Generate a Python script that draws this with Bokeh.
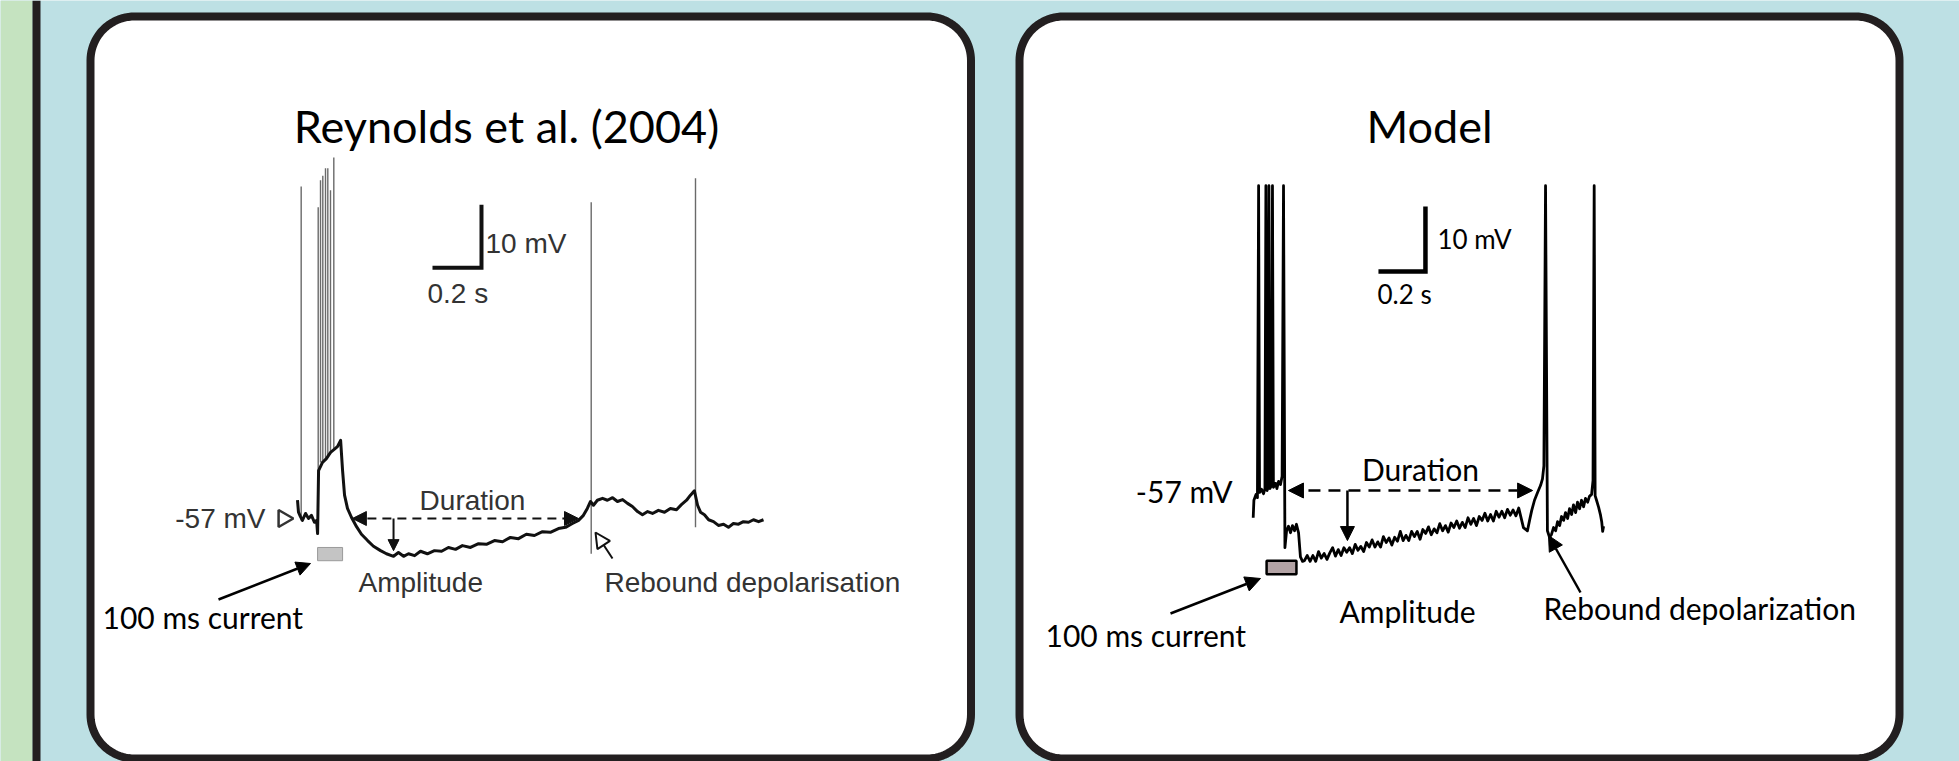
import numpy as np
from bokeh.plotting import figure
from bokeh.models import Range1d, Label, Arrow, NormalHead
from bokeh.embed import file_html
from bokeh.resources import INLINE

W, H = 1959, 761

# ---------------- DATA ----------------
# Reynolds et al. (2004) recording: time (ms) and membrane potential (mV)
rey_t = [0, 4, 12, 20, 33, 45, 57, 69, 78, 82,
         86, 102, 118, 135, 151, 163, 176, 184, 192, 204,
         220, 241, 261, 286, 310, 339, 363, 392, 412, 433,
         453, 478, 502, 530, 559, 588, 616, 645, 673, 706,
         739, 771, 804, 837, 869, 902, 934, 967, 1000, 1032,
         1065, 1094, 1122, 1147, 1167, 1183, 1196, 1208, 1224, 1245,
         1265, 1286, 1306, 1327, 1347, 1367, 1388, 1408, 1429, 1449,
         1473, 1498, 1522, 1547, 1567, 1588, 1604, 1620, 1633, 1645,
         1661, 1678, 1698, 1718, 1739, 1759, 1779, 1800, 1820, 1841,
         1861, 1882, 1902]
rey_v = [-54.1, -56.0, -56.7, -57.3, -56.2, -57.0, -56.5, -57.6, -57.3, -59.4,
         -49.4, -48.1, -47.5, -46.5, -46.0, -45.6, -44.6, -49.4, -53.3, -55.4,
         -56.8, -58.3, -59.5, -60.5, -61.4, -62.1, -62.6, -63.0, -62.4, -63.0,
         -62.6, -62.9, -62.2, -62.6, -62.1, -62.2, -61.6, -61.9, -61.3, -61.6,
         -61.0, -61.1, -60.5, -60.7, -60.0, -60.2, -59.5, -59.7, -59.1, -59.2,
         -58.6, -58.4, -57.8, -57.3, -56.5, -55.4, -54.3, -54.9, -54.1, -53.8,
         -54.1, -53.7, -54.3, -54.0, -54.6, -55.1, -55.9, -56.4, -55.9, -56.2,
         -55.7, -56.0, -55.4, -55.6, -54.8, -54.1, -53.3, -52.6, -54.9, -56.0,
         -56.4, -57.2, -57.5, -58.1, -57.9, -58.4, -57.8, -57.9, -57.5, -57.6,
         -57.2, -57.5, -57.2]
# recorded action potentials (time, trough, peak)
rey_spike_t = [15, 84.5, 93.9, 103.3, 114.3, 123.7, 134.7, 148.2, 1198.8, 1624.5]
rey_spike_lo = [-57.3, -59.4, -48.1, -47.8, -47.5, -47.0, -46.5, -46.0, -62.6, -58.4]
rey_spike_hi = [-4.3, -7.6, -3.3, -2.6, -1.4, -1.4, -4.9, 0.3, -6.8, -3.0]
rey_stim = [82, 184]
rey_duration = [224, 1147]
rey_amp = [392, -57.0, -62.1]

# Model trace: time (ms) and membrane potential (mV)
mod_t = [0, 3, 12, 18, 23, 27, 35, 44, 50, 54,
         59, 63, 67, 71, 78, 82, 86, 95, 101, 108,
         116, 123, 129, 135, 142, 150, 159, 167, 176, 184,
         193, 201, 210,
         218, 230, 242, 254, 266, 278, 290, 302, 314, 326,
         338, 350, 362, 374, 386, 398, 410, 422, 434, 446,
         458, 470, 482, 494, 506, 518, 530, 542, 554, 566,
         578, 590, 602, 614, 626, 638, 650, 662, 674, 686,
         698, 710, 722, 734, 746, 758, 770, 782, 794, 806,
         818, 830, 842, 854, 866, 878, 890, 902, 914, 926,
         938, 950, 962, 974, 986, 998, 1010, 1022, 1034, 1046,
         1058, 1070, 1082, 1094, 1106, 1118, 1130,
         1150, 1167, 1176, 1185, 1197, 1210, 1223, 1231, 1237, 1244,
         1252, 1261, 1269, 1278, 1287, 1295, 1304, 1312, 1321, 1329,
         1338, 1346, 1355, 1363, 1372, 1380, 1389, 1397, 1406, 1414,
         1423, 1431, 1440, 1446, 1451, 1455, 1461, 1470, 1478, 1483,
         1487, 1491]
mod_v = [-61.2, -58.5, -57.6, -58.1, -10.1, -57.3, -56.8, -57.5, -56.7, -10.1,
         -57.0, -56.5, -10.1, -56.7, -56.2, -10.1, -56.5, -55.9, -56.7, -55.6,
         -56.1, -54.8, -10.1, -65.8, -63.2, -62.5, -63.5, -62.4, -63.2, -62.2,
         -63.5, -67.2, -67.9,
         -67.8, -67.0, -67.9, -67.0, -67.9, -66.4, -67.4, -66.7, -67.6, -66.6,
         -65.8, -67.1, -66.1, -67.0, -65.8, -66.5, -65.8, -66.7, -65.3, -66.2,
         -65.6, -66.4, -65.0, -65.7, -64.6, -65.7, -64.9, -65.7, -64.1, -65.0,
         -64.3, -65.4, -64.2, -64.8, -63.3, -64.7, -63.9, -64.7, -63.3, -64.1,
         -63.3, -64.5, -63.0, -63.6, -62.6, -63.8, -62.9, -63.5, -62.1, -63.2,
         -62.4, -63.4, -62.0, -62.7, -61.7, -62.8, -61.9, -62.7, -61.2, -62.2,
         -61.3, -62.4, -61.0, -61.6, -60.5, -61.7, -60.7, -61.7, -60.2, -61.1,
         -60.2, -61.2, -59.9, -60.8, -60.0, -60.9, -59.7,
         -62.7, -63.2, -61.6, -60.1, -58.5, -57.3, -56.2, -55.2, -53.2, -10.1,
         -63.2, -64.2, -63.8, -62.7, -63.2, -61.8, -62.4, -61.0, -61.6, -60.4,
         -61.3, -59.8, -60.7, -59.2, -60.4, -58.8, -59.8, -58.5, -59.5, -58.2,
         -58.8, -57.9, -57.6, -55.5, -10.1, -57.8, -58.5, -59.6, -60.8, -61.8,
         -63.3, -62.5]
mod_stim = [57, 184]
mod_duration = [150, 1189]
mod_amp = [401, -57.0, -64.7]

SCALE_MS = 200   # 0.2 s
SCALE_MV = 10    # 10 mV
rey_bar = [751, -17.2]   # corner of scale bar (ms, mV)
mod_bar = [733, -23.3]

# ---------------- LAYOUT ----------------
BG = "#bde0e4"
INK = "#231f20"
p = figure(width=W, height=H, x_range=Range1d(0, W), y_range=Range1d(H, 0),
           x_axis_type=None, y_axis_type=None, output_backend="svg",
           toolbar_location=None, min_border=0)
p.outline_line_color = None
p.background_fill_color = BG
p.border_fill_color = BG
p.grid.visible = False

# panel calibrations (pixel anchor, px per unit)
def add_ranges(name, x0, pxms, y57, pxmv):
    p.extra_x_ranges[name + "_t"] = Range1d(-x0 / pxms, (W - x0) / pxms)
    p.extra_y_ranges[name + "_v"] = Range1d(-57 - (H - y57) / pxmv, -57 + y57 / pxmv)

p.extra_x_ranges = {}
p.extra_y_ranges = {}
add_ranges("rey", 297.0, 0.245, 518.0, 6.3)
add_ranges("mod", 1252.7, 0.235, 490.0, 6.5)

# side strips
p.quad(left=[0], right=[32], top=[0], bottom=[H], fill_color="#c5e3c0", line_color=None)
p.quad(left=[32], right=[40], top=[0], bottom=[H], fill_color=INK, line_color=None)

def rounded(x0, y0, x1, y1, r, n=24):
    xs, ys = [], []
    for cx, cy, a0, a1 in [(x1 - r, y0 + r, -90, 0), (x1 - r, y1 - r, 0, 90),
                           (x0 + r, y1 - r, 90, 180), (x0 + r, y0 + r, 180, 270)]:
        a = np.radians(np.linspace(a0, a1, n))
        xs.extend(cx + r * np.cos(a))
        ys.extend(cy + r * np.sin(a))
    return xs, ys

for (x0, x1) in [(90, 970.5), (1019, 1899)]:
    xs, ys = rounded(x0, 16, x1, 758, 44)
    p.patch(xs, ys, fill_color="white", line_color=INK, line_width=8, line_join="round")

MYR = "Lato"
ARL = "Liberation Sans"
GREY = "#333333"

def lab(x, y, text, font, size, align="left", color="black", xr="default", yr="default"):
    p.add_layout(Label(x=x, y=y, text=text, text_font=font, text_font_size=f"{size}px",
                       text_align=align, text_baseline="middle", text_color=color,
                       x_range_name=xr, y_range_name=yr))

# ---------- left panel: Reynolds et al. ----------
R = dict(x_range_name="rey_t", y_range_name="rey_v")
p.segment(x0=rey_spike_t, y0=rey_spike_lo, x1=rey_spike_t, y1=rey_spike_hi,
          line_color="#6a6a6a", line_width=1.4, **R)
p.line(rey_t, rey_v, line_color="#111111", line_width=3, line_join="round", **R)
p.quad(left=[rey_stim[0]], right=[rey_stim[1]], top=[-61.6], bottom=[-63.7],
       fill_color="#c4c4c4", line_color="#9a9a9a", line_width=1, **R)
p.line([rey_bar[0] - SCALE_MS, rey_bar[0], rey_bar[0]],
       [rey_bar[1], rey_bar[1], rey_bar[1] + SCALE_MV],
       line_color="#111111", line_width=4, line_join="miter", **R)
p.add_layout(Arrow(start=NormalHead(size=14, fill_color="#111", line_color="#111"),
                   end=NormalHead(size=14, fill_color="#111", line_color="#111"),
                   x_start=rey_duration[0], y_start=-57, x_end=rey_duration[1], y_end=-57,
                   line_dash="9 6", line_width=2, line_color="#111", **R))
p.add_layout(Arrow(end=NormalHead(size=11, fill_color="#111", line_color="#111"),
                   x_start=rey_amp[0], y_start=rey_amp[1], x_end=rey_amp[0], y_end=rey_amp[2],
                   line_width=2, line_color="#111", **R))
p.add_layout(Arrow(end=NormalHead(size=15, fill_color="white", line_color="#111", line_width=2),
                   x_start=612, y_start=558, x_end=595, y_end=532, line_width=2, line_color="#111"))
p.add_layout(Arrow(end=NormalHead(size=14, fill_color="black", line_color="black"),
                   x_start=218, y_start=599, x_end=310, y_end=563, line_width=2.5))
p.scatter(x=[283], y=[518], marker="triangle", size=17, angle=-np.pi / 2,
          fill_color="white", line_color=GREY, line_width=2.5)

lab(506, 125, "Reynolds et al. (2004)", MYR, 45, "center")
lab(485, 243, "10 mV", ARL, 28, color=GREY)
lab(427, 293, "0.2 s", ARL, 28, color=GREY)
lab(472, 500, "Duration", ARL, 28, "center", GREY)
lab(265, 518, "-57 mV", ARL, 28, "right", GREY)
lab(358, 582, "Amplitude", ARL, 28, color=GREY)
lab(604, 582, "Rebound depolarisation", ARL, 28, color=GREY)
lab(102, 616, "100 ms current", MYR, 30)

# ---------- right panel: Model ----------
M = dict(x_range_name="mod_t", y_range_name="mod_v")
p.line(mod_t, mod_v, line_color="black", line_width=2.8, line_join="round", **M)
p.quad(left=[mod_stim[0]], right=[mod_stim[1]], top=[-67.8], bottom=[-69.9],
       fill_color="#b3a3a5", line_color="black", line_width=2.5, **M)
p.line([mod_bar[0] - SCALE_MS, mod_bar[0], mod_bar[0]],
       [mod_bar[1], mod_bar[1], mod_bar[1] + SCALE_MV],
       line_color="black", line_width=4.5, line_join="miter", **M)
p.add_layout(Arrow(start=NormalHead(size=15, fill_color="black", line_color="black"),
                   end=NormalHead(size=15, fill_color="black", line_color="black"),
                   x_start=mod_duration[0], y_start=-57, x_end=mod_duration[1], y_end=-57,
                   line_dash="12 8", line_width=2.5, line_color="black", **M))
p.add_layout(Arrow(end=NormalHead(size=14, fill_color="black", line_color="black"),
                   x_start=mod_amp[0], y_start=mod_amp[1], x_end=mod_amp[0], y_end=mod_amp[2],
                   line_width=2.5, line_color="black", **M))
p.add_layout(Arrow(end=NormalHead(size=15, fill_color="black", line_color="black"),
                   x_start=1580, y_start=592, x_end=1548, y_end=535, line_width=2.5))
p.add_layout(Arrow(end=NormalHead(size=15, fill_color="black", line_color="black"),
                   x_start=1170, y_start=613, x_end=1260, y_end=578, line_width=2.5))

lab(1429, 125, "Model", MYR, 45, "center")
lab(1437, 238, "10 mV", MYR, 26)
lab(1377, 293, "0.2 s", MYR, 26)
lab(1420, 468, "Duration", MYR, 30, "center")
lab(1232, 490, "-57 mV", MYR, 30, "right")
lab(1339, 610, "Amplitude", MYR, 30)
lab(1543, 607, "Rebound depolarization", MYR, 30)
lab(1045, 634, "100 ms current", MYR, 30)

open("out.html", "w").write(file_html(p, INLINE))
